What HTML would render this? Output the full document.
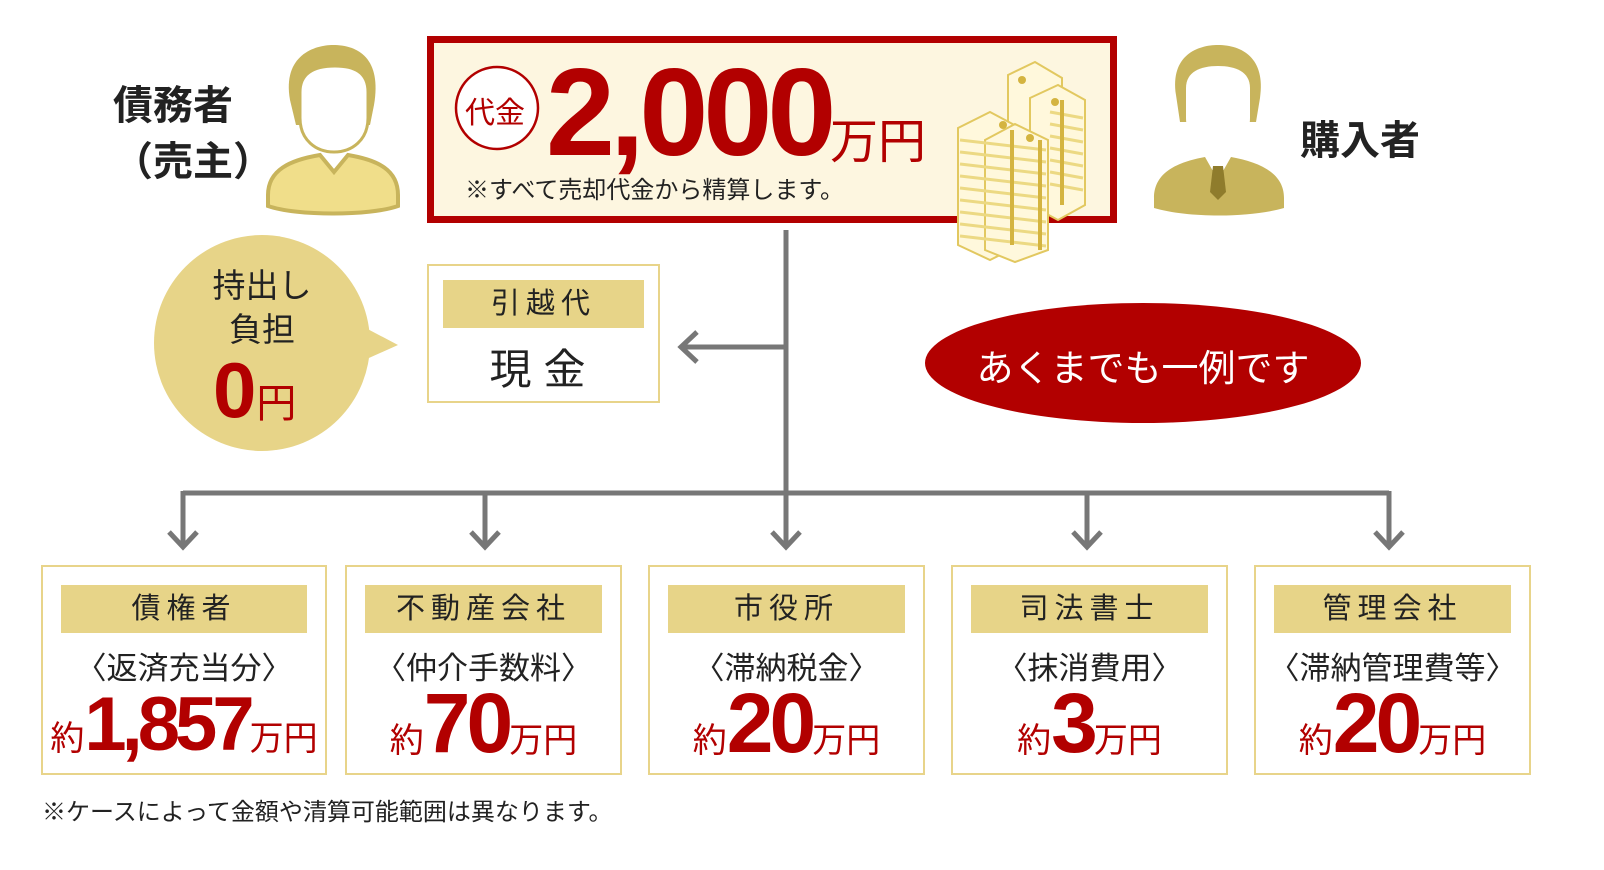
<!DOCTYPE html>
<html><head><meta charset="utf-8"><style>
body{margin:0;width:1604px;height:870px;background:#fff;position:relative;overflow:hidden;font-family:"Liberation Sans","Noto Sans CJK JP",sans-serif;}
.a{position:absolute;white-space:nowrap;}
.box{position:absolute;top:565px;height:210px;border:2px solid #e8d48a;box-sizing:border-box;background:#fff;}
.hd{position:absolute;left:18px;right:18px;top:18px;height:48px;background:#e7d488;font-size:29px;text-align:center;line-height:48px;letter-spacing:6px;color:#222;}
.sb{position:absolute;left:0;right:0;top:76px;text-align:center;font-size:31px;color:#222;}
.nm{position:absolute;left:0;right:0;top:108px;text-align:center;color:#b20000;font-weight:bold;white-space:nowrap;}
.nm b{font-size:84px;letter-spacing:-4px;}
.nm span{font-size:34px;font-weight:normal;}
</style></head><body>
<svg class="a" style="left:0;top:0" width="1604" height="870">
<g stroke="#777" stroke-width="5" fill="none">
<line x1="786" y1="230" x2="786" y2="548"/>
<line x1="183" y1="493" x2="1389" y2="493"/>
<line x1="183" y1="491" x2="183" y2="548"/><line x1="485" y1="491" x2="485" y2="548"/><line x1="1087" y1="491" x2="1087" y2="548"/><line x1="1389" y1="491" x2="1389" y2="548"/>
<line x1="786" y1="347" x2="682" y2="347"/>
<polyline points="697,332 681,347 697,362"/>
<polyline points="169,532 183,547 197,532"/><polyline points="471,532 485,547 499,532"/><polyline points="772,532 786,547 800,532"/><polyline points="1073,532 1087,547 1101,532"/><polyline points="1375,532 1389,547 1403,532"/>
</g>
<circle cx="262" cy="343" r="108" fill="#e7d488"/>
<polygon points="360,325 398,345 360,362" fill="#e7d488"/>
<ellipse cx="1143" cy="363" rx="218" ry="60" fill="#b20000"/>
<rect x="430.5" y="39.5" width="683" height="180" fill="#fdf6e0" stroke="#b20000" stroke-width="7"/>
<circle cx="497" cy="108" r="41" fill="#fff" stroke="#b20000" stroke-width="2.5"/>
<path d="M290,100 C282,55 315,45 333,45 C358,45 382,58 374,105 L370,125 L296,125Z" fill="#c8b45c"/>
<path d="M300,92 C300,72 316,66 335,66 C354,66 368,72 368,92 L368,118 C368,140 352,152 334,152 C316,152 300,140 300,118Z" fill="#fff" stroke="#c8b45c" stroke-width="3"/>
<path d="M268,195 C268,170 290,160 320,155 L334,172 L348,155 C378,160 398,170 398,195 L398,206 C370,216 296,216 268,206Z" fill="#f0de8a" stroke="#c8b45c" stroke-width="4"/>
<path d="M1176,95 C1170,55 1198,45 1218,45 C1242,45 1266,58 1260,98 L1256,122 L1180,122Z" fill="#c8b45c"/>
<path d="M1186,88 C1186,72 1200,66 1218,66 C1236,66 1250,72 1250,88 L1250,118 C1250,138 1234,150 1218,150 C1202,150 1186,138 1186,118Z" fill="#fff"/>
<path d="M1154,198 C1154,172 1178,162 1205,157 L1218,180 L1231,157 C1258,162 1284,172 1284,198 L1284,208 C1250,218 1188,218 1154,208Z" fill="#c8b45c"/>
<polygon points="1213,166 1223,166 1226,192 1218,200 1210,192" fill="#8f7c2c"/>
<g stroke="#e2c860" stroke-width="2" fill="#fff8dc">
<polygon points="1008,75 1035,62 1062,78 1062,200 1035,215 1008,200"/>
<polygon points="1030,98 1058,85 1085,100 1085,205 1058,220 1030,205"/>
<polygon points="958,128 990,112 1020,128 1020,245 990,260 958,245"/>
<polygon points="985,140 1015,124 1048,140 1048,250 1015,262 985,250"/>
</g>
<g stroke="#ecd983" stroke-width="3">
<line x1="960" y1="140" x2="1046" y2="150"/><line x1="960" y1="152" x2="1046" y2="162"/><line x1="960" y1="164" x2="1046" y2="174"/><line x1="960" y1="176" x2="1046" y2="186"/><line x1="960" y1="188" x2="1046" y2="198"/><line x1="960" y1="200" x2="1046" y2="210"/><line x1="960" y1="212" x2="1046" y2="222"/><line x1="960" y1="224" x2="1046" y2="234"/><line x1="960" y1="236" x2="1046" y2="246"/>
<line x1="1050" y1="112" x2="1083" y2="118"/><line x1="1050" y1="124" x2="1083" y2="130"/><line x1="1050" y1="136" x2="1083" y2="142"/><line x1="1050" y1="148" x2="1083" y2="154"/><line x1="1050" y1="160" x2="1083" y2="166"/><line x1="1050" y1="172" x2="1083" y2="178"/><line x1="1050" y1="184" x2="1083" y2="190"/>
</g>
<g stroke="#d4b440" stroke-width="4">
<line x1="1040" y1="140" x2="1040" y2="250"/><line x1="1062" y1="100" x2="1062" y2="205"/><line x1="1012" y1="130" x2="1012" y2="245"/>
</g>
<g fill="#d4b440"><circle cx="1022" cy="80" r="4"/><circle cx="1055" cy="102" r="4"/><circle cx="1003" cy="125" r="4"/><circle cx="1030" cy="138" r="4"/></g>
</svg>
<div class="a" style="left:113px;top:78px;font-size:40px;font-weight:bold;color:#222;line-height:56px;">債務者<br>（売主）</div>
<div class="a" style="left:1300px;top:108px;font-size:40px;font-weight:bold;color:#222;">購入者</div>
<div class="a" style="left:465px;top:88px;font-size:30px;color:#b20000;">代金</div>
<div class="a" style="left:546px;top:42px;font-size:124px;font-weight:bold;color:#b20000;letter-spacing:-5px;">2,000</div>
<div class="a" style="left:830px;top:102px;font-size:48px;color:#b20000;">万円</div>
<div class="a" style="left:465px;top:170px;font-size:24px;color:#222;">※すべて売却代金から精算します。</div>
<div class="a" style="left:208px;top:264px;font-size:33px;color:#222;text-align:center;line-height:44px;width:108px;">持出し<br>負担</div>
<div class="a" style="left:213px;top:345px;color:#b20000;font-weight:bold;font-size:78px;">0<span style="font-size:40px;font-weight:normal">円</span></div>
<div class="a" style="left:427px;top:264px;width:233px;height:139px;border:2px solid #e8d48a;box-sizing:border-box;">
<div style="position:absolute;left:14px;right:14px;top:14px;height:48px;background:#e7d488;font-size:29px;text-align:center;line-height:48px;letter-spacing:6px;color:#222;">引越代</div>
<div style="position:absolute;left:0;right:0;top:70px;text-align:center;font-size:42px;letter-spacing:12px;color:#222;">現金</div></div>
<div class="a" style="left:925px;top:338px;width:436px;text-align:center;font-size:37px;color:#fff;">あくまでも一例です</div>
<div class="box" style="left:41px;width:286px"><div class="hd">債権者</div><div class="sb">〈返済充当分〉</div><div class="nm" style="top:114px"><span>約</span><b style="font-size:76px;letter-spacing:-5px">1,857</b><span>万円</span></div></div>
<div class="box" style="left:345px;width:277px"><div class="hd">不動産会社</div><div class="sb">〈仲介手数料〉</div><div class="nm"><span>約</span><b>70</b><span>万円</span></div></div>
<div class="box" style="left:648px;width:277px"><div class="hd">市役所</div><div class="sb">〈滞納税金〉</div><div class="nm"><span>約</span><b>20</b><span>万円</span></div></div>
<div class="box" style="left:951px;width:277px"><div class="hd">司法書士</div><div class="sb">〈抹消費用〉</div><div class="nm"><span>約</span><b>3</b><span>万円</span></div></div>
<div class="box" style="left:1254px;width:277px"><div class="hd">管理会社</div><div class="sb">〈滞納管理費等〉</div><div class="nm"><span>約</span><b>20</b><span>万円</span></div></div>
<div class="a" style="left:42px;top:792px;font-size:24px;color:#222;">※ケースによって金額や清算可能範囲は異なります。</div>
</body></html>
